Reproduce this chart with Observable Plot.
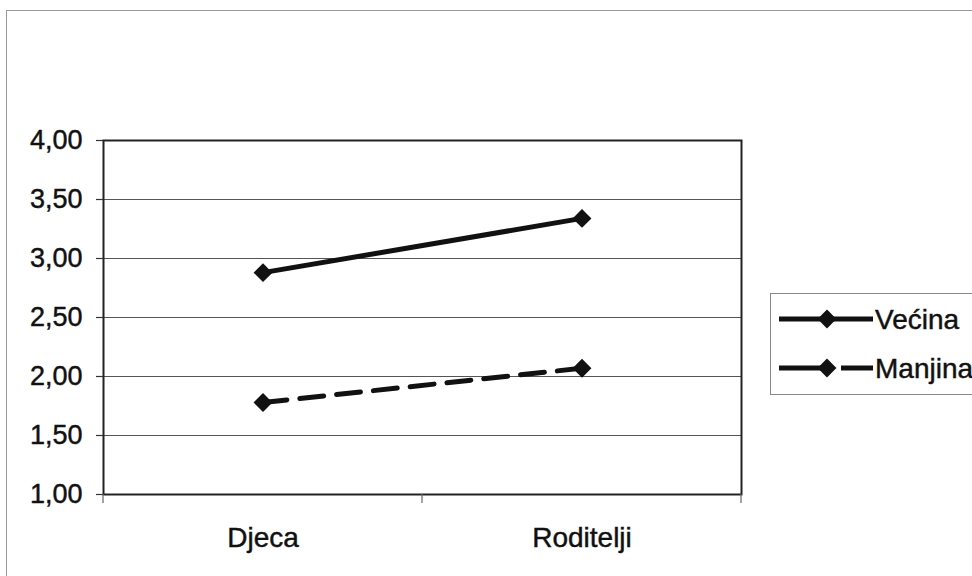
<!DOCTYPE html>
<html>
<head>
<meta charset="utf-8">
<script src="https://cdn.jsdelivr.net/npm/d3@7"></script>
<script src="https://cdn.jsdelivr.net/npm/@observablehq/plot@0.6"></script>
<style>
  html, body { margin: 0; padding: 0; background: #fff; }
  #wrap { position: relative; width: 972px; height: 576px; overflow: hidden; font-family: "Liberation Sans", Arial, sans-serif; }
  #outer { position: absolute; left: 6px; top: 10px; width: 1200px; height: 900px; border-top: 1.5px solid #9a9a9a; border-left: 1.5px solid #9a9a9a; }
  #chart { position: absolute; left: 0; top: 0; }
  #legend { position: absolute; left: 770px; top: 293px; width: 260px; height: 100px; border: 1.5px solid #888; background: #fff; }
  svg text { stroke: #111; stroke-width: 0.45px; }
</style>
</head>
<body>
<div id="wrap">
  <div id="outer"></div>
  <div id="chart"></div>
  <div id="legend"></div>
</div>
<script>
const categories = ["Djeca", "Roditelji"];
const series = ["Većina", "Manjina"];
const vecina = [2.88, 3.34];
const manjina = [1.78, 2.07];
const yTicks = [1.0, 1.5, 2.0, 2.5, 3.0, 3.5, 4.0];

const rows = [];
categories.forEach((c, i) => {
  rows.push({series: "Većina", cat: c, i: i + 0.5, v: vecina[i]});
  rows.push({series: "Manjina", cat: c, i: i + 0.5, v: manjina[i]});
});
const catRows = categories.map((c, i) => ({cat: c, i: i + 0.5}));
const boundaries = d3.range(categories.length + 1);
const fmt = d => d.toFixed(2).replace(".", ",");

const plot = Plot.plot({
  width: 972,
  height: 576,
  marginLeft: 103,
  marginRight: 231,
  marginTop: 140,
  marginBottom: 82,
  style: {background: "transparent", fontFamily: "'Liberation Sans', Arial, sans-serif", color: "#111"},
  x: {domain: [0, categories.length], axis: null},
  y: {domain: [1, 4], axis: null},
  marks: [
    Plot.ruleY(yTicks.slice(1, -1), {stroke: "#555", strokeWidth: 1}),
    Plot.frame({stroke: "#222", strokeWidth: 2}),
    Plot.axisY({ticks: yTicks, tickFormat: fmt, label: null, tickSize: 7, tickPadding: 14, fontSize: 27, stroke: "#333", strokeWidth: 1.2}),
    Plot.tickX(boundaries, {x: d => d, y1: 1, stroke: "#666", strokeWidth: 1, render: (index, scales, values) => {
      const g = d3.create("svg:g");
      const y0 = scales.y(1);
      for (const i of index) {
        const x = values.x[i];
        g.append("line").attr("x1", x).attr("x2", x).attr("y1", y0).attr("y2", y0 + 9).attr("stroke", "#666").attr("stroke-width", 1.2);
      }
      return g.node();
    }}),
    Plot.text(catRows, {x: "i", y: 1, text: "cat", dy: 44, fontSize: 28, fill: "#111"}),
    Plot.line(rows.filter(d => d.series === "Većina"), {x: "i", y: "v", stroke: "#111", strokeWidth: 5}),
    Plot.line(rows.filter(d => d.series === "Manjina"), {x: "i", y: "v", stroke: "#111", strokeWidth: 5, strokeDasharray: "24,13"}),
    Plot.dot(rows, {x: "i", y: "v", symbol: "diamond2", r: 8.5, fill: "#111", stroke: "none"})
  ]
});
document.getElementById("chart").appendChild(plot);

// legend
const lg = d3.select("#legend").append("svg").attr("width", 260).attr("height", 100);
const entries = [{name: series[0], dashed: false, y: 25}, {name: series[1], dashed: true, y: 74}];
entries.forEach(e => {
  if (e.dashed) {
    lg.append("line").attr("x1", 8).attr("x2", 50).attr("y1", e.y).attr("y2", e.y).attr("stroke", "#111").attr("stroke-width", 5);
    lg.append("line").attr("x1", 70).attr("x2", 102).attr("y1", e.y).attr("y2", e.y).attr("stroke", "#111").attr("stroke-width", 5);
  } else {
    lg.append("line").attr("x1", 8).attr("x2", 102).attr("y1", e.y).attr("y2", e.y).attr("stroke", "#111").attr("stroke-width", 5);
  }
  lg.append("path").attr("d", d3.symbol(d3.symbolDiamond2, Math.PI * 8.5 * 8.5)()).attr("transform", `translate(56,${e.y})`).attr("fill", "#111");
  lg.append("text").attr("x", 104).attr("y", e.y).attr("dy", "0.36em").attr("font-size", 28)
    .attr("font-family", "'Liberation Sans', Arial, sans-serif").attr("fill", "#111").text(e.name);
});
</script>
</body>
</html>
